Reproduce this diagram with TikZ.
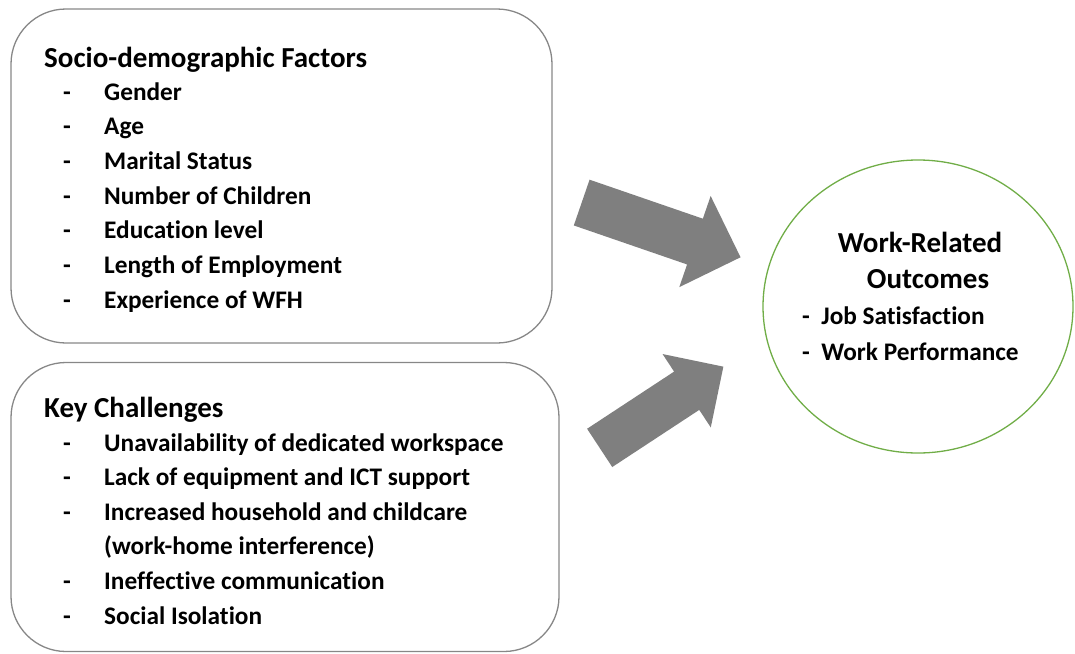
\documentclass[tikz,border=0pt]{standalone}
\usepackage{fontspec}
\setmainfont{Carlito}[Ligatures=NoCommon]
\usetikzlibrary{shapes.arrows,shapes.geometric}

\definecolor{boxgray}{RGB}{135,135,135}
\definecolor{arrowgray}{RGB}{127,127,127}
\definecolor{outgreen}{RGB}{112,173,71}

\begin{document}
\begin{tikzpicture}[x=1pt,y=-1pt,
  factorbox/.style={draw=boxgray,line width=1.3pt,rounded corners=55pt,inner sep=0pt},
  headtext/.style={anchor=base west,inner sep=0pt,font=\fontsize{29}{34}\selectfont\bfseries},
  itemtext/.style={anchor=base west,inner sep=0pt,font=\fontsize{25.3}{30}\selectfont\bfseries},
  bigarrow/.style={single arrow,fill=arrowgray,draw=none,anchor=tail,inner xsep=0pt,
    single arrow tip angle=90,minimum width=0pt}]
\useasboundingbox (0,0) rectangle (1075,653);
% boxes
\node[factorbox,minimum width=541pt,minimum height=334pt] (socio) at (281.5,176) {};
\node[factorbox,minimum width=548pt,minimum height=289pt] (challenge) at (285,507) {};
\node[draw=outgreen,line width=1.3pt,ellipse,inner sep=0pt,minimum width=310pt,minimum height=293pt] (outcome) at (918,306.5) {};
% socio-demographic factors
\node[headtext] (sociohead) at (44,67) {Socio-demographic Factors};
\foreach \txt [count=\i from 0] in {Gender,Age,Marital Status,Number of Children,Education level,Length of Employment,Experience of WFH} {
  \node[itemtext] (sociodash\i) at (63,100+34.7*\i) {-};
  \node[itemtext] (socioitem\i) at (104,100+34.7*\i) {\txt};
}
% key challenges
\node[headtext] (challengehead) at (44,417) {Key Challenges};
\foreach \dsh/\txt [count=\i from 0] in {-/Unavailability of dedicated workspace,-/Lack of equipment and ICT support,-/Increased household and childcare,{}/(work-home interference),-/Ineffective communication,-/Social Isolation} {
  \node[itemtext] (challengedash\i) at (63,451+34.6*\i) {\dsh};
  \node[itemtext] (challengeitem\i) at (104,451+34.6*\i) {\txt};
}
% outcomes
\node[headtext,anchor=base] (outcomehead) at (920,252) {Work-Related};
\node[headtext,anchor=base] (outcomehead2) at (928,288) {Outcomes};
\node[itemtext] (outcomeitem1) at (802,324) {-\ \ Job Satisfaction};
\node[itemtext] (outcomeitem2) at (802,360) {-\ \ Work Performance};
% arrows
\node[bigarrow,rotate=-19,minimum height=168pt,inner ysep=24pt,single arrow head extend=24pt] (arrowsocio) at (581.5,202.5) {};
\node[bigarrow,rotate=33.3,minimum height=148pt,inner ysep=22.7pt,single arrow head extend=21pt] (arrowchallenge) at (599.5,448) {};
\end{tikzpicture}
\end{document}
